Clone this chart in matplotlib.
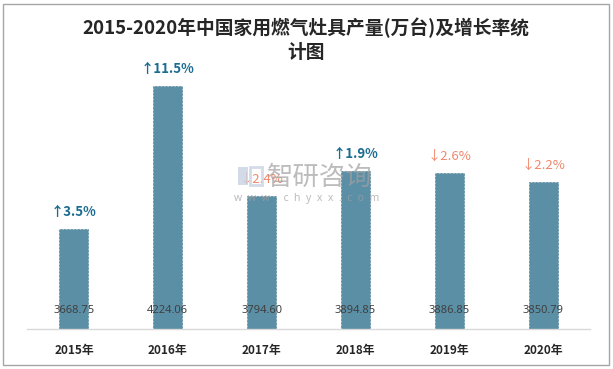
import matplotlib
matplotlib.use("Agg")
import matplotlib.pyplot as plt
from matplotlib.patches import Rectangle

plt.rcParams['font.family'] = ['Noto Sans CJK SC', 'DejaVu Sans']

years = ["2015年", "2016年", "2017年", "2018年", "2019年", "2020年"]
output = [3668.75, 4224.06, 3794.60, 3894.85, 3886.85, 3850.79]
growth = ["3.5%", "11.5%", "2.4%", "1.9%", "2.6%", "2.2%"]
direction = ["up", "up", "down", "up", "down", "down"]

W, H = 613, 369
fig = plt.figure(figsize=(W/100, H/100), dpi=100)
fig.patch.set_facecolor("white")

# outer border
fig.patches.append(Rectangle((3/W, 4/H), 606/W, 361/H, transform=fig.transFigure,
                             fill=False, edgecolor="#A6A6A6", linewidth=1.0))

ax = fig.add_axes([27/W, (H-329)/H, 563/W, 288/H])
ax.set_facecolor("none")
x = list(range(len(years)))
ax.bar(x, output, width=0.31, color="#5B8FA6", edgecolor="#53869D",
       linewidth=0.5, linestyle=(0, (3, 2)), zorder=2)
ax.set_xlim(-0.5, 5.5)
ax.set_ylim(3280, 4398)
for s in ["top", "right", "left"]:
    ax.spines[s].set_visible(False)
ax.spines["bottom"].set_color("#D9D9D9")
ax.spines["bottom"].set_linewidth(1.0)
ax.set_yticks([])
ax.set_xticks(x)
ax.set_xticklabels(years, fontsize=8.5, fontweight="bold", color="#262626")
ax.tick_params(axis="x", length=0, pad=11)

# watermark (behind the growth labels)
fig.patches.append(Rectangle((238/W, 1 - 185/H), 10/W, 18/H, transform=fig.transFigure,
                             facecolor="#C9D3E3", edgecolor="none", alpha=0.8, zorder=5))
fig.patches.append(Rectangle((250/W, 1 - 185/H), 12/W, 18/H, transform=fig.transFigure,
                             fill=False, edgecolor="#C9D3E3", linewidth=2.0, alpha=0.8, zorder=5))
fig.text(320/W, 1 - 177/H, "智研咨询", ha="center", va="center", fontsize=19,
         color="#A0A0A0", alpha=0.7, zorder=5)
fig.text(307/W, 1 - 198/H, "w  w  w  .  c  h  y  x  x  .  c  o  m", ha="center", va="center",
         fontsize=7.5, color="#A0A0A0", alpha=0.7, zorder=5,
         family=["Noto Sans", "DejaVu Sans"])

for i, v in enumerate(output):
    ax.annotate(f"{v:.2f}", (i, 3280), xytext=(0, 13), textcoords="offset points",
                ha="center", va="center", fontsize=8, color="#404040",
                family=["Noto Sans", "DejaVu Sans"], zorder=3)
    up = direction[i] == "up"
    arrow = "↑" if up else "↓"
    ax.annotate(arrow + growth[i], (i, v), xytext=(0, 12), textcoords="offset points",
                ha="center", va="center", fontsize=9.5,
                fontweight="bold" if up else "normal",
                color="#1A6C90" if up else "#F2876B",
                family=["Noto Sans CJK SC", "DejaVu Sans"], zorder=6)

fig.text(306/W, 1 - 28/H, "2015-2020年中国家用燃气灶具产量(万台)及增长率统",
         ha="center", va="center", fontsize=13.5, fontweight="bold", color="#262626")
fig.text(306/W, 1 - 52/H, "计图",
         ha="center", va="center", fontsize=13.5, fontweight="bold", color="#262626")

fig.savefig("out.png", dpi=100, facecolor="white")
